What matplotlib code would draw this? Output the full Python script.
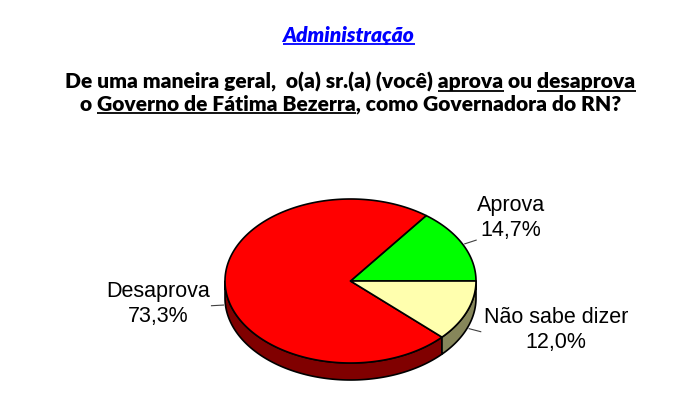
import matplotlib
matplotlib.use('Agg')
import matplotlib.pyplot as plt
from matplotlib.patches import Polygon
import numpy as np

# ---- data ----
categories = ['Aprova', 'Desaprova', 'Não sabe dizer']
values = [14.7, 73.3, 12.0]
value_labels = ['14,7%', '73,3%', '12,0%']

title = 'Administração'
q_line1 = [('De uma maneira geral,  o(a) sr.(a) (você) ', False), ('aprova', True),
           (' ou ', False), ('desaprova', True)]
q_line2 = [('o ', False), ('Governo de Fátima Bezerra', True),
           (', como Governadora do RN?', False)]

# ---- styles ----
top_colors = ['#00FF00', '#FF0000', '#FFFFAE']
side_colors = ['#008000', '#800000', '#86865A']
label_pos = [(511, 218), (158, 304), (556, 330)]

W, H = 691, 416
fig = plt.figure(figsize=(W / 100, H / 100), dpi=100)
ax = fig.add_axes([0, 0, 1, 1])
ax.set_xlim(0, W)
ax.set_ylim(H, 0)
ax.axis('off')
renderer = fig.canvas.get_renderer()

HEAD_FONT = ['Lato', 'DejaVu Sans']


def text_width(s, **kw):
    t = ax.text(0, 0, s, **kw)
    w = t.get_window_extent(renderer).width
    t.remove()
    return w


def fit_size(s, target, **kw):
    return 10 * target / text_width(s, fontsize=10, **kw)


def rich_line(pieces, cx, baseline, fs, color='black', **kw):
    full = ''.join(p for p, _ in pieces)
    t = ax.text(cx, baseline, full, ha='center', va='baseline', fontsize=fs,
                color=color, **kw)
    bb = t.get_window_extent(renderer)
    x0 = bb.x0
    prefix = ''
    for s, ul in pieces:
        if ul:
            wps = text_width(prefix + s, fontsize=fs, **kw)
            ws = text_width(s, fontsize=fs, **kw)
            ax.plot([x0 + wps - ws, x0 + wps], [baseline + 2.3] * 2, color=color,
                    lw=1.3, solid_capstyle='butt')
        prefix += s


# title
tkw = dict(family=HEAD_FONT, weight='heavy', style='italic')
tfs = fit_size(title, 132, **tkw)
rich_line([(title, True)], 349, 42, tfs, color='#0000FF', **tkw)

# question
qkw = dict(family=HEAD_FONT, weight='heavy')
qfs = fit_size(''.join(p for p, _ in q_line1), 571, **qkw)
rich_line(q_line1, 350.5, 89, qfs, **qkw)
rich_line(q_line2, 350.5, 111, qfs, **qkw)

# ---- 3D pie ----
cx, cy, a, b, depth = 350.5, 281, 125.5, 82, 17
fracs = np.array(values) / sum(values)
bounds = np.concatenate([[0], np.cumsum(fracs) * 360])


def ell(t, dy=0.0):
    t = np.radians(np.atleast_1d(t))
    return np.column_stack([cx + a * np.cos(t), cy - b * np.sin(t) + dy])


for i in range(len(values)):
    lo, hi = max(bounds[i], 180), min(bounds[i + 1], 360)
    if hi > lo:
        ts = np.linspace(lo, hi, 120)
        pts = np.vstack([ell(ts), ell(ts[::-1], depth)])
        ax.add_patch(Polygon(pts, closed=True, fc=side_colors[i], ec='black',
                             lw=1.2, joinstyle='round'))

for i in range(len(values)):
    ts = np.linspace(bounds[i], bounds[i + 1], 240)
    pts = np.vstack([[cx, cy], ell(ts)])
    ax.add_patch(Polygon(pts, closed=True, fc=top_colors[i], ec='black',
                         lw=1.2, joinstyle='round'))

# leaders + labels
for i in range(len(values)):
    mid = (bounds[i] + bounds[i + 1]) / 2
    r = np.radians(mid)
    p = ell(mid)[0]
    if np.sin(r) < 0:
        p[1] += depth
    d = np.array([a * np.cos(r), -b * np.sin(r)])
    d /= np.hypot(*d)
    s0, s1 = p + 2 * d, p + 14 * d
    ax.plot([s0[0], s1[0]], [s0[1], s1[1]], color='#404040', lw=0.8)
    lx, ly = label_pos[i]
    ax.text(lx, ly, f'{categories[i]}\n{value_labels[i]}', ha='center',
            va='center', fontsize=15.5, family=['Liberation Sans', 'DejaVu Sans'],
            color='black')

fig.savefig('out.png', dpi=100)
